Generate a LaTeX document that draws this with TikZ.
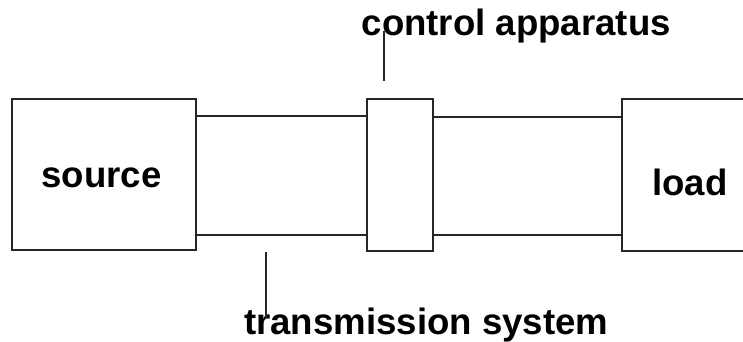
\documentclass[tikz,border=0pt]{standalone}
\usepackage{fontspec}
\setmainfont{Liberation Sans}
\begin{document}
\begin{tikzpicture}[x=1pt,y=-1pt,
  blk/.style={draw=black!85,line width=2pt,rectangle,inner sep=0pt},
  wire/.style={draw=black!85,line width=2pt},
  lbl/.style={inner sep=0pt,font=\fontsize{36.6}{44}\selectfont\bfseries}]
\useasboundingbox (0,0) rectangle (743,341);
\clip (0,0) rectangle (743,341);
\node[blk,minimum width=184pt,minimum height=151pt] (source) at (104,174.5) {};
\node[blk,minimum width=66pt,minimum height=152pt] (ctrl) at (400,175) {};
\node[blk,minimum width=200pt,minimum height=152pt] (load) at (722,175) {};
\node[lbl,anchor=center] (srctxt) at (101.5,178) {source};
\node[lbl,anchor=base] (loadtxt) at (690,195) {load};
\node[lbl,anchor=base west] (ctrltxt) at (361.5,35) {control apparatus};
\node[lbl,anchor=base west] (transtxt) at (244,334) {transmission system};
\draw[wire] (source.east |- 0,116) -- (ctrl.west |- 0,116);
\draw[wire] (source.east |- 0,235) -- (ctrl.west |- 0,235);
\draw[wire] (ctrl.east |- 0,117) -- (load.west |- 0,117);
\draw[wire] (ctrl.east |- 0,235) -- (load.west |- 0,235);
\coordinate (c1) at (384,31);
\coordinate (c2) at (384,81);
\draw[wire,line width=1.8pt] (c1) -- (c2);
\coordinate (t1) at (266,252);
\coordinate (t2) at (266,318);
\draw[wire,line width=1.8pt] (t1) -- (t2);
\end{tikzpicture}
\end{document}
